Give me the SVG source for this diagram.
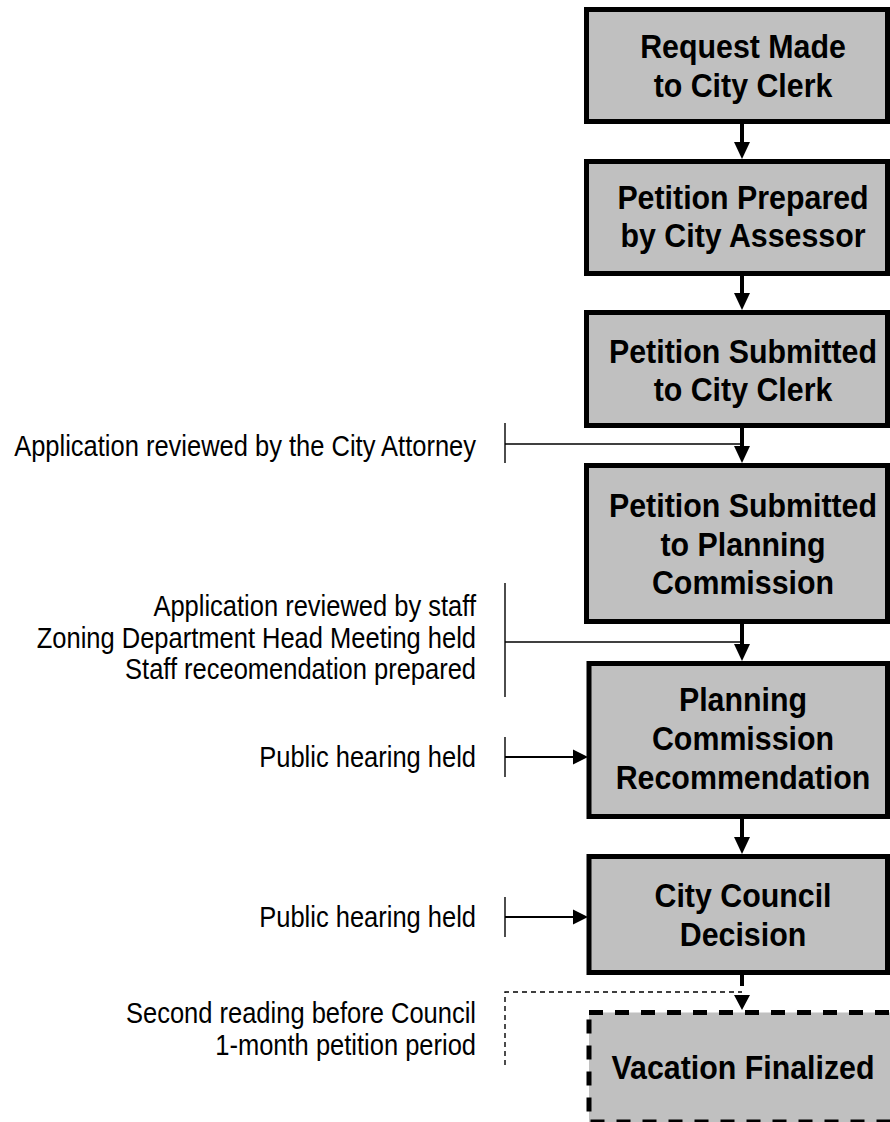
<svg xmlns="http://www.w3.org/2000/svg" width="890" height="1122" viewBox="0 0 890 1122">
  <style>
    .box { fill: #c0c0c0; stroke: #000; stroke-width: 5; }
    .box-dash { fill: #c0c0c0; stroke: #000; stroke-width: 5; stroke-dasharray: 14 12; }
    .title { font-family: "Liberation Sans", Arial, sans-serif; font-weight: bold; font-size: 33px; fill: #000; text-anchor: middle; }
    .note { font-family: "Liberation Sans", Arial, sans-serif; font-size: 30px; fill: #000; text-anchor: end; }
    .shaft { stroke: #000; stroke-width: 4; fill: none; }
    .head { fill: #000; }
    .thin { stroke: #000; stroke-width: 1.4; fill: none; }
    .mid { stroke: #000; stroke-width: 2; fill: none; }
    .thin-dash { stroke: #000; stroke-width: 1.4; fill: none; stroke-dasharray: 5 4; }
  </style>

  <!-- process steps -->
  <g id="request-made">
    <rect class="box" x="586.5" y="9.5" width="301" height="112"/>
    <text class="title" transform="translate(743 58) scale(0.92 1)">Request Made</text>
    <text class="title" transform="translate(743 97) scale(0.92 1)">to City Clerk</text>
  </g>

  <g id="petition-prepared">
    <rect class="box" x="586.5" y="161.5" width="301" height="112"/>
    <text class="title" transform="translate(743 209) scale(0.92 1)">Petition Prepared</text>
    <text class="title" transform="translate(743 247) scale(0.92 1)">by City Assessor</text>
  </g>

  <g id="petition-submitted-clerk">
    <rect class="box" x="586.5" y="312.5" width="301" height="113"/>
    <text class="title" transform="translate(743 363) scale(0.92 1)">Petition Submitted</text>
    <text class="title" transform="translate(743 401) scale(0.92 1)">to City Clerk</text>
  </g>

  <g id="petition-submitted-planning">
    <rect class="box" x="586.5" y="465.5" width="301" height="156"/>
    <text class="title" transform="translate(743 517) scale(0.92 1)">Petition Submitted</text>
    <text class="title" transform="translate(743 556) scale(0.92 1)">to Planning</text>
    <text class="title" transform="translate(743 594) scale(0.92 1)">Commission</text>
  </g>

  <g id="planning-recommendation">
    <rect class="box" x="589" y="663.5" width="298.5" height="153"/>
    <text class="title" transform="translate(743 711) scale(0.92 1)">Planning</text>
    <text class="title" transform="translate(743 750) scale(0.92 1)">Commission</text>
    <text class="title" transform="translate(743 789) scale(0.92 1)">Recommendation</text>
  </g>

  <g id="council-decision">
    <rect class="box" x="589" y="856.5" width="298.5" height="116"/>
    <text class="title" transform="translate(743 907) scale(0.92 1)">City Council</text>
    <text class="title" transform="translate(743 946) scale(0.92 1)">Decision</text>
  </g>

  <g id="vacation-finalized">
    <!-- wider than the page so its right edge runs off the sheet -->
    <rect class="box-dash" x="589" y="1012.5" width="330" height="109.5"/>
    <text class="title" transform="translate(743 1079) scale(0.92 1)">Vacation Finalized</text>
  </g>

  <!-- side notes -->
  <g id="note-attorney">
    <text class="note" transform="translate(476 456) scale(0.85 1)">Application reviewed by the City Attorney</text>
  </g>
  <g id="note-staff">
    <text class="note" transform="translate(476 616) scale(0.85 1)">Application reviewed by staff</text>
    <text class="note" transform="translate(476 648) scale(0.85 1)">Zoning Department Head Meeting held</text>
    <text class="note" transform="translate(476 679) scale(0.85 1)">Staff receomendation prepared</text>
  </g>
  <g id="note-hearing-pc">
    <text class="note" transform="translate(476 767) scale(0.85 1)">Public hearing held</text>
  </g>
  <g id="note-hearing-council">
    <text class="note" transform="translate(476 927) scale(0.85 1)">Public hearing held</text>
  </g>
  <g id="note-final">
    <text class="note" transform="translate(476 1023) scale(0.85 1)">Second reading before Council</text>
    <text class="note" transform="translate(476 1055) scale(0.85 1)">1-month petition period</text>
  </g>

  <!-- connectors -->
  <g id="connectors">
    <!-- step to step -->
    <line class="shaft" x1="742" y1="124" x2="742" y2="144"/>
    <polygon class="head" points="734,142 750,142 742,159"/>
    <line class="shaft" x1="742" y1="276" x2="742" y2="295"/>
    <polygon class="head" points="734,293 750,293 742,310"/>
    <line class="shaft" x1="742" y1="428" x2="742" y2="448"/>
    <polygon class="head" points="734,446 750,446 742,463"/>
    <line class="shaft" x1="742" y1="624" x2="742" y2="646"/>
    <polygon class="head" points="734,644 750,644 742,661"/>
    <line class="shaft" x1="742" y1="819" x2="742" y2="839"/>
    <polygon class="head" points="734,837 750,837 742,854"/>
    <line class="shaft" x1="742" y1="975" x2="742" y2="986"/>
    <polygon class="head" points="734,995 750,995 742,1010"/>

    <!-- attorney review -->
    <line class="thin" x1="505" y1="423" x2="505" y2="463"/>
    <line class="thin" x1="505" y1="444" x2="742" y2="444"/>

    <!-- staff review -->
    <line class="thin" x1="505" y1="583" x2="505" y2="697"/>
    <line class="thin" x1="505" y1="642" x2="742" y2="642"/>

    <!-- hearings -->
    <line class="thin" x1="505" y1="737" x2="505" y2="777"/>
    <line class="mid" x1="505" y1="757" x2="575" y2="757"/>
    <polygon class="head" points="573,749.5 573,764.5 588,757"/>
    <line class="thin" x1="505" y1="897" x2="505" y2="937"/>
    <line class="mid" x1="505" y1="917" x2="575" y2="917"/>
    <polygon class="head" points="573,909.5 573,924.5 588,917"/>

    <!-- second reading -->
    <polyline class="thin-dash" points="505,1065 505,992 742,992"/>
  </g>
</svg>
